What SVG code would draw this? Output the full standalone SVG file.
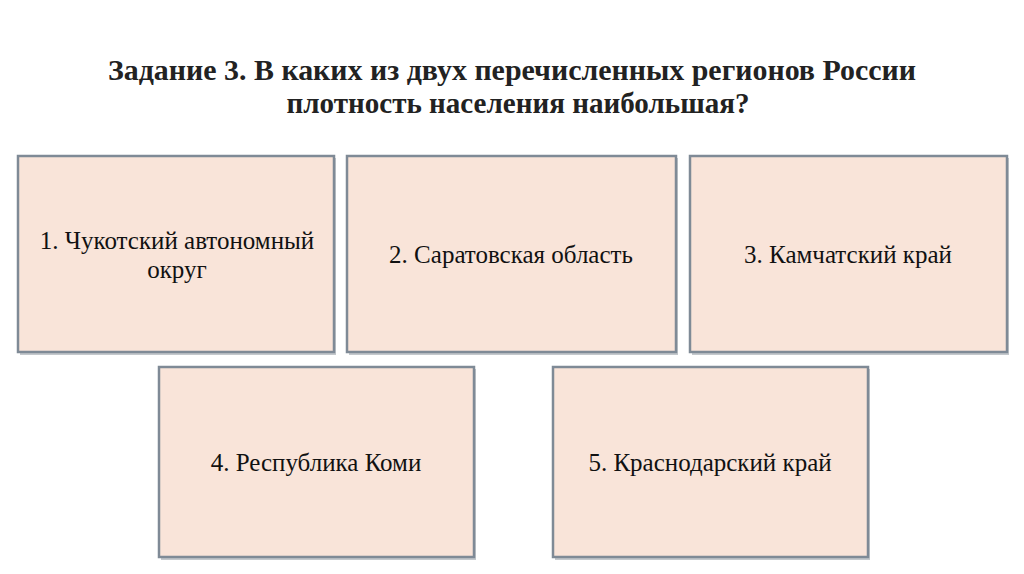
<svg xmlns="http://www.w3.org/2000/svg" width="1024" height="574" viewBox="0 0 1024 574">
<defs><style>
.b{fill:#f9e4d9;stroke:#7f8a96;stroke-width:2.5}
.s{fill:#c4c8cc}
.t{font-family:"Liberation Serif",serif;font-size:25px;fill:#111;text-anchor:middle}
.h{font-family:"Liberation Serif",serif;font-size:29px;font-weight:bold;fill:#222;text-anchor:middle}
</style></defs>
<rect width="1024" height="574" fill="#fff"/>
<g id="title"><text class="h" x="512" y="80" textLength="808" lengthAdjust="spacingAndGlyphs">Задание 3. В каких из двух перечисленных регионов России</text><text class="h" x="518" y="113" textLength="463" lengthAdjust="spacingAndGlyphs">плотность населения наибольшая?</text></g>
<g id="n1"><rect class="s" x="20" y="158" width="316" height="197"/><rect class="b" x="18" y="156" width="316" height="196"/><text class="t" x="177" y="249">1. Чукотский автономный</text><text class="t" x="177" y="278">округ</text></g>
<g id="n2"><rect class="s" x="349" y="158" width="329" height="197"/><rect class="b" x="347" y="156" width="329" height="196"/><text class="t" x="511" y="263">2. Саратовская область</text></g>
<g id="n3"><rect class="s" x="692" y="158" width="317" height="197"/><rect class="b" x="690" y="156" width="317" height="196"/><text class="t" x="848" y="263">3. Камчатский край</text></g>
<g id="n4"><rect class="s" x="161" y="369" width="315" height="191"/><rect class="b" x="159" y="367" width="315" height="190"/><text class="t" x="316" y="471">4. Республика Коми</text></g>
<g id="n5"><rect class="s" x="555" y="369" width="315" height="191"/><rect class="b" x="553" y="367" width="315" height="190"/><text class="t" x="710" y="471">5. Краснодарский край</text></g>
<g id="connectors"/>
</svg>
